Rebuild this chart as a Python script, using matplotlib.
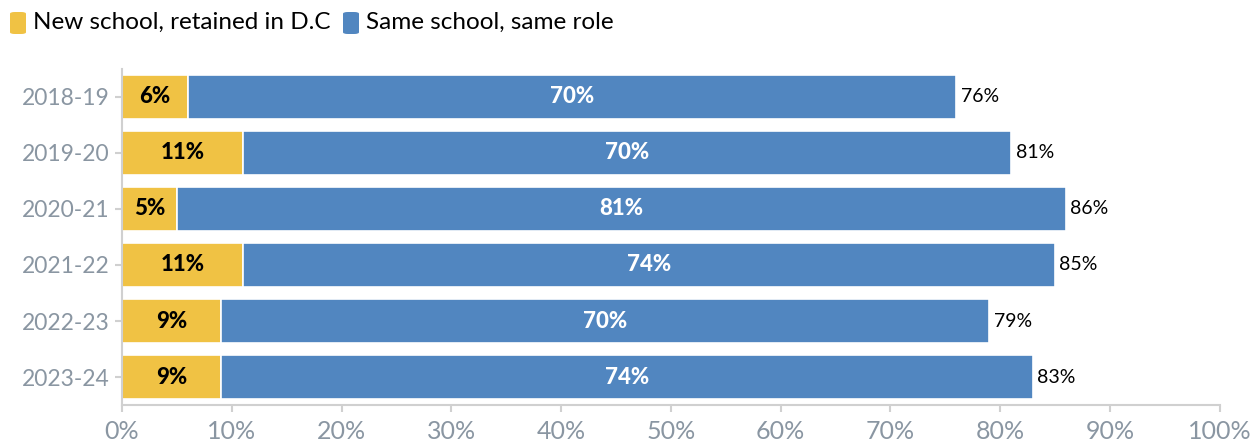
import matplotlib.pyplot as plt
from matplotlib.patches import FancyBboxPatch
from matplotlib.ticker import FuncFormatter, MultipleLocator

plt.rcParams['font.family'] = ['Lato', 'DejaVu Sans']

# Teacher retention by school year (percent)
years = ["2018-19", "2019-20", "2020-21", "2021-22", "2022-23", "2023-24"]
new_school = [6, 11, 5, 11, 9, 9]
same_school = [70, 70, 81, 74, 70, 74]
totals = [76, 81, 86, 85, 79, 83]

YELLOW = "#f0c244"
BLUE = "#5186c0"
GREY = "#8a96a2"
AXIS = "#d0d0d0"

fig = plt.figure(figsize=(12.51, 4.41), dpi=100)
ax = fig.add_axes([0.0975, 0.0816, 0.8775, 0.762])

pos = list(range(len(years)))
ax.barh(pos, new_school, height=0.79, color=YELLOW, edgecolor="white", linewidth=1.2)
ax.barh(pos, same_school, left=new_school, height=0.79, color=BLUE,
        edgecolor="white", linewidth=1.2)

for i in pos:
    ax.text(new_school[i] / 2, i, f"{new_school[i]}%", ha="center", va="center",
            fontsize=16, fontweight="black", color="black")
    ax.text(new_school[i] + same_school[i] / 2, i, f"{same_school[i]}%",
            ha="center", va="center", fontsize=16, fontweight="black", color="white")
    ax.text(totals[i] + 0.4, i, f"{totals[i]}%", ha="left", va="center",
            fontsize=14, color="black")

ax.set_xlim(0, 100)
ax.set_ylim(5.5, -0.5)
ax.set_yticks(pos)
ax.set_yticklabels(years)
ax.xaxis.set_major_locator(MultipleLocator(10))
ax.xaxis.set_major_formatter(FuncFormatter(lambda v, p: f"{v:.0f}%"))

for side in ("top", "right"):
    ax.spines[side].set_visible(False)
for side in ("left", "bottom"):
    ax.spines[side].set_color(AXIS)
    ax.spines[side].set_linewidth(1.5)
ax.tick_params(axis="x", colors=AXIS, labelcolor=GREY, labelsize=18, length=5,
               width=1.5, pad=6)
ax.tick_params(axis="y", colors=AXIS, labelcolor=GREY, labelsize=16.5, length=5,
               width=1.5, pad=4)

# Legend with rounded swatches
legend_items = [("New school, retained in D.C", YELLOW, 10),
                ("Same school, same role", BLUE, 343)]
for label, color, x0 in legend_items:
    fig.patches.append(FancyBboxPatch(
        (x0 / 1251, 1 - 34 / 441), 16 / 1251, 22 / 441,
        boxstyle="round,pad=0,rounding_size=0.004", transform=fig.transFigure,
        facecolor=color, edgecolor="none"))
    fig.text((x0 + 23) / 1251, 1 - 22 / 441, label, ha="left", va="center",
             fontsize=17.5, color="black")

fig.savefig("out.png", dpi=100)
